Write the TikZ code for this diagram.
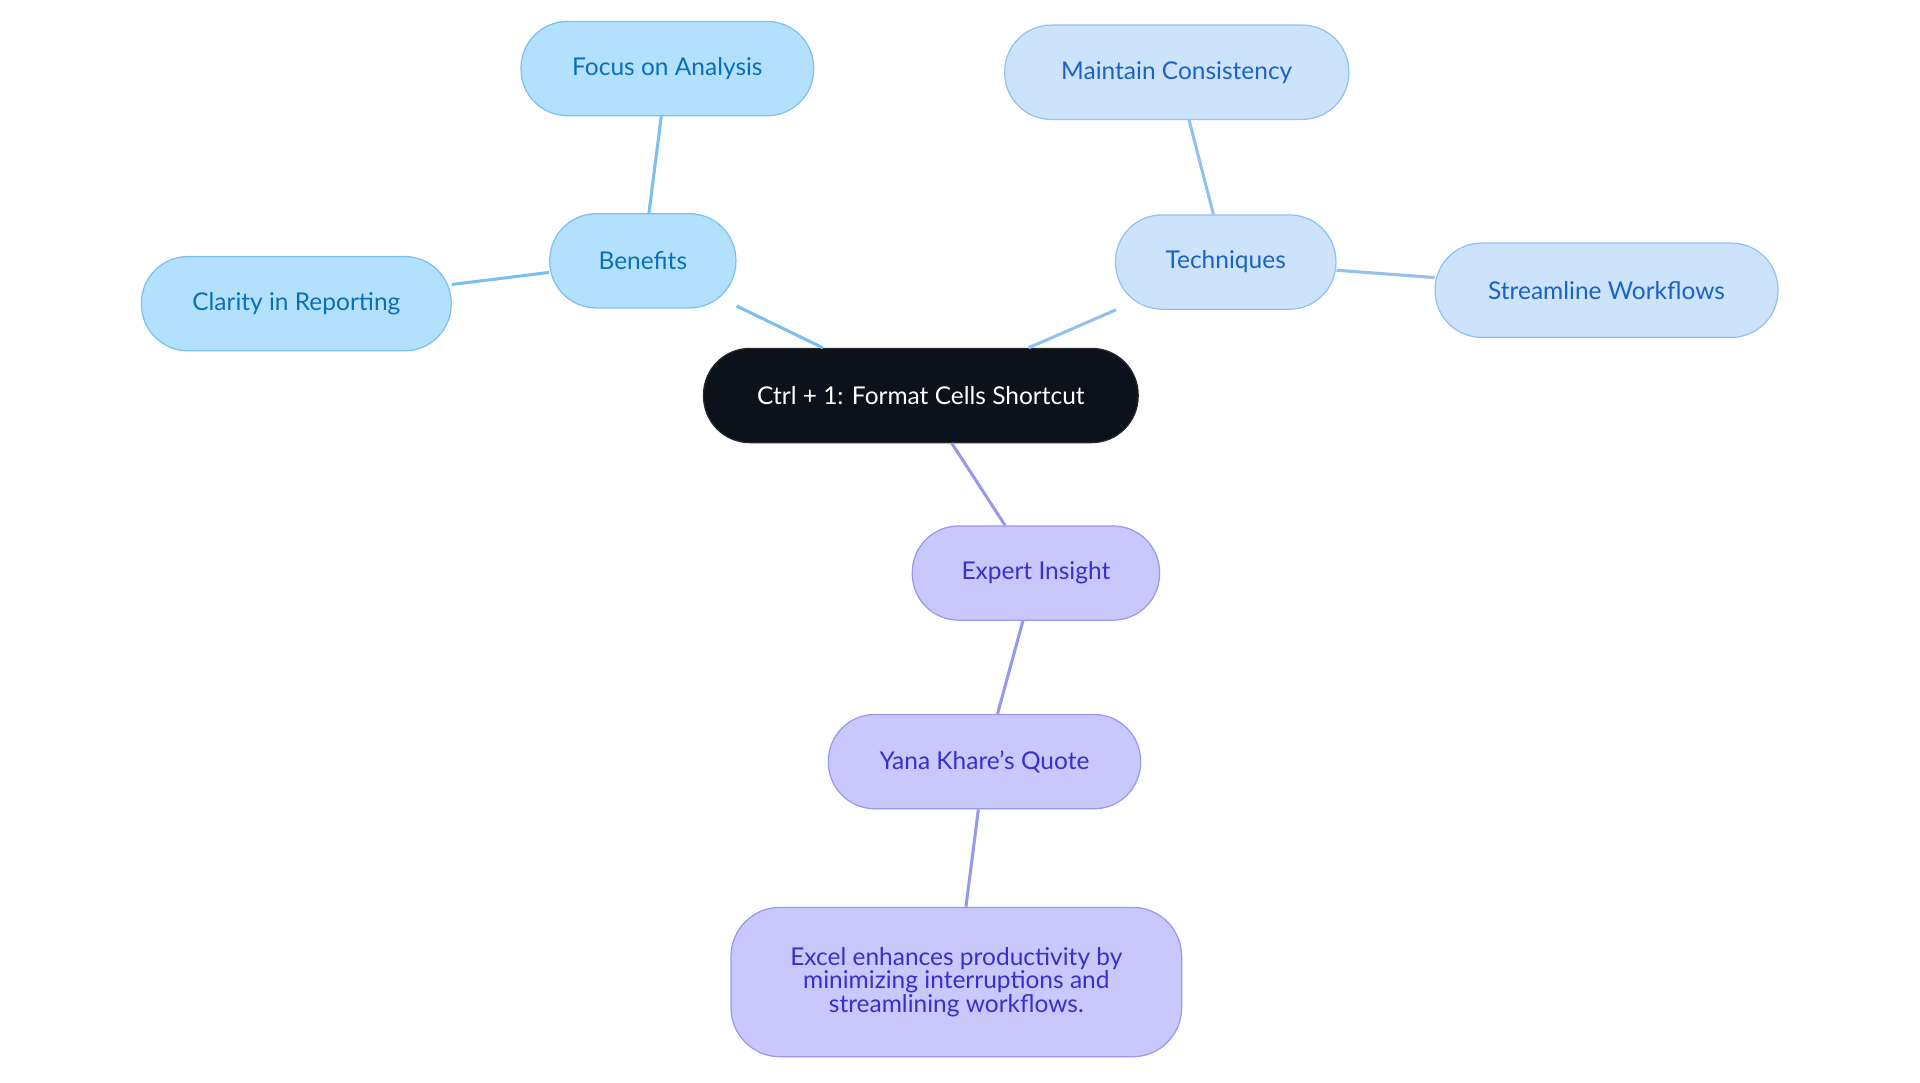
\documentclass[tikz,border=0pt]{standalone}
\usepackage{fontspec}
\setmainfont{Lato}
\begin{document}
\begin{tikzpicture}[x=1pt,y=-1pt,
  box/.style={rounded corners=38pt,minimum height=77pt,line width=1pt,font=\fontsize{20}{22}\selectfont,align=center,inner sep=0pt},
  ben/.style={box,fill={rgb,255:red,179;green,224;blue,253},draw={rgb,255:red,124;green,192;blue,240},text={rgb,255:red,10;green,111;blue,184}},
  tec/.style={box,fill={rgb,255:red,205;green,227;blue,251},draw={rgb,255:red,147;green,193;blue,239},text={rgb,255:red,26;green,98;blue,196}},
  exp/.style={box,fill={rgb,255:red,200;green,200;blue,252},draw={rgb,255:red,154;green,152;blue,238},text={rgb,255:red,59;green,47;blue,201}},
  eb/.style={line width=2.5pt,draw={rgb,255:red,123;green,191;blue,238}},
  et/.style={line width=2.5pt,draw={rgb,255:red,147;green,193;blue,239}},
  ee/.style={line width=2.5pt,draw={rgb,255:red,154;green,152;blue,238}}]
\useasboundingbox (0,0) rectangle (1568,884);
\node[box,fill={rgb,255:red,11;green,18;blue,28},draw={rgb,255:red,40;green,40;blue,40},text=white,minimum width=355pt] (c) at (752,323) {Ctrl + 1: Format Cells Shortcut};
\node[ben,minimum width=152pt] (b) at (525,213) {Benefits};
\node[ben,minimum width=239pt] (f) at (545,56) {Focus on Analysis};
\node[ben,minimum width=253pt] (cl) at (242,248) {Clarity in Reporting};
\node[tec,minimum width=180pt] (t) at (1001,214) {Techniques};
\node[tec,minimum width=281pt] (m) at (961,59) {Maintain Consistency};
\node[tec,minimum width=280pt] (s) at (1312,237) {Streamline Workflows};
\node[exp,minimum width=202pt] (e) at (846,468) {Expert Insight};
\node[exp,minimum width=255pt] (y) at (804,622) {Yana Khare's Quote};
\node[exp,minimum width=368pt,minimum height=122pt,rounded corners=40pt] (x) at (781,802) {Excel enhances productivity by\\[-3pt]minimizing interruptions and\\[-3pt]streamlining workflows.};
\draw[eb] (c.north west) ++(98,0) -- (b);
\draw[eb] (b) -- (f);
\draw[eb] (b) -- (cl);
\draw[et] (c.north east) ++(-90,0) -- (t);
\draw[et] (t) -- (m);
\draw[et] (t) -- (s);
\draw[ee] (c) -- (e);
\draw[ee] (e) -- (y);
\draw[ee] (y) -- (x);
\end{tikzpicture}
\end{document}
